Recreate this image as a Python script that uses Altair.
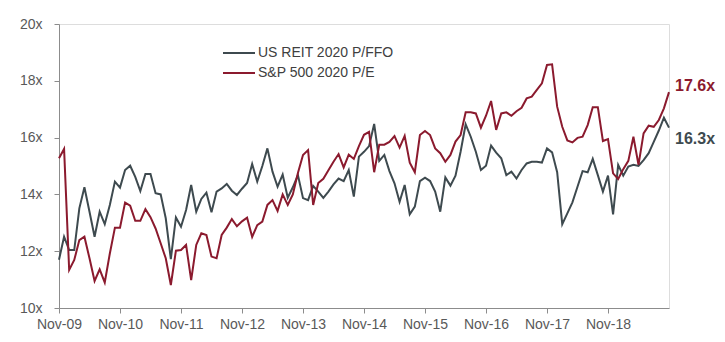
import json
import altair as alt
import pandas as pd

series_names = ["US REIT 2020 P/FFO", "S&P 500 2020 P/E"]
series_colors = ["#3e4a4f", "#8b1a2e"]
tick_labels = ["Nov-09", "Nov-10", "Nov-11", "Nov-12", "Nov-13",
               "Nov-14", "Nov-15", "Nov-16", "Nov-17", "Nov-18"]
end_labels = ["16.3x", "17.6x"]

reit = [11.7, 12.51, 12.04, 12.04, 13.51, 14.25, 13.39, 12.51, 13.39, 12.95,
        13.63, 14.45, 14.24, 14.86, 15.01, 14.62, 14.12, 14.72, 14.72, 14.04,
        14.0, 13.16, 11.72, 13.19, 12.86, 13.45, 14.33, 13.39, 13.84, 14.06,
        13.37, 14.1, 14.21, 14.37, 14.13, 13.98, 14.2, 14.4, 15.07, 14.45,
        15.0, 15.62, 14.8, 14.27, 14.7, 13.88, 14.25, 14.68, 13.87, 13.8,
        14.3, 14.1, 13.88, 14.1, 14.35, 14.56, 14.47, 14.86, 13.92, 15.33,
        15.5, 15.7, 16.48, 15.18, 15.39, 14.82, 14.39, 13.74, 14.33, 13.3,
        13.57, 14.47, 14.59, 14.47, 14.1, 13.39, 14.6, 14.31, 14.66, 15.5,
        16.47, 16.03, 15.5, 14.86, 15.01, 15.72, 15.47, 15.27, 14.68, 14.8,
        14.56, 14.86, 15.09, 15.15, 15.15, 15.12, 15.62, 15.48, 14.78, 12.95,
        13.33, 13.72, 14.27, 14.82, 14.78, 15.25, 14.68, 14.1, 14.66, 13.3,
        15.04, 14.66, 14.98, 15.04, 15.0, 15.21, 15.45, 15.85, 16.25, 16.7,
        16.35]

spx = [15.27, 15.6, 11.34, 11.69, 12.39, 12.51, 11.75, 10.95, 11.36, 10.9,
       11.92, 12.83, 12.83, 13.71, 13.6, 13.07, 13.07, 13.48, 13.2, 12.8,
       12.28, 11.75, 10.81, 12.02, 12.04, 12.22, 10.98, 12.22, 12.63, 12.57,
       11.81, 11.75, 12.57, 12.83, 13.13, 12.88, 13.05, 13.18, 12.5, 12.92,
       13.04, 13.63, 13.8, 13.42, 14.0, 13.63, 14.0, 14.75, 15.39, 15.56,
       13.63, 14.4, 14.55, 14.85, 15.15, 15.42, 14.95, 15.4, 15.25, 15.7,
       16.1, 16.2, 14.78, 15.75, 15.75, 15.85, 16.05, 15.65, 16.06, 15.12,
       14.78, 16.09, 16.23, 16.09, 15.62, 15.45, 15.15, 15.39, 15.86, 16.09,
       16.89, 16.89, 16.85, 16.35, 16.77, 17.29, 16.27, 16.85, 16.89, 16.77,
       16.93, 17.05, 17.38, 17.44, 17.68, 17.91, 18.56, 18.58, 17.09, 16.38,
       15.9, 15.83, 15.99, 16.03, 16.44, 17.07, 17.07, 15.88, 15.95, 14.74,
       14.54, 14.89, 15.18, 16.03, 15.04, 16.15, 16.42, 16.38, 16.62, 17.03,
       17.6]

rows = []
for i, v in enumerate(reit):
    rows.append({"m": i, "series": series_names[0], "value": v})
for i, v in enumerate(spx):
    rows.append({"m": i, "series": series_names[1], "value": v})
df = pd.DataFrame(rows)
last_m = len(reit) - 1

FONT = "Liberation Sans"
label_expr = json.dumps(tick_labels) + "[round(datum.value / 12)]"

x = alt.X("m:Q",
          scale=alt.Scale(domain=[0, last_m], nice=False, zero=False),
          axis=alt.Axis(values=[12 * i for i in range(len(tick_labels))],
                        labelExpr=label_expr, title=None, grid=False,
                        labelOverlap=False, labelFlush=False,
                        tickSize=5, labelPadding=4, labelFontSize=14,
                        labelColor="#595959", domainColor="#8c8c8c",
                        tickColor="#8c8c8c", labelFont=FONT))
y = alt.Y("value:Q",
          scale=alt.Scale(domain=[10, 20], nice=False, zero=False),
          axis=alt.Axis(values=[10, 12, 14, 16, 18, 20],
                        labelExpr="datum.value + 'x'", title=None, grid=False,
                        labelOverlap=False, labelFlush=False,
                        tickSize=5, labelPadding=12, labelFontSize=14,
                        labelColor="#595959", domainColor="#8c8c8c",
                        tickColor="#8c8c8c", labelFont=FONT))
color = alt.Color("series:N",
                  scale=alt.Scale(domain=series_names, range=series_colors),
                  legend=alt.Legend(orient="none", legendX=171, legendY=20,
                                    title=None, symbolType="M-2,0H2",
                                    symbolSize=256, symbolStrokeWidth=2,
                                    labelFontSize=14, labelColor="#404040",
                                    labelFont=FONT, labelOffset=10,
                                    rowPadding=4))

lines = alt.Chart(df).mark_line(strokeWidth=2).encode(x=x, y=y, color=color)

label_reit = alt.Chart(df).transform_filter(
    (alt.datum.m == last_m) & (alt.datum.series == series_names[0])
).transform_calculate(lbl=f"'{end_labels[0]}'").mark_text(
    align="left", baseline="middle", dx=6, dy=11, fontSize=16,
    fontWeight="bold", font=FONT, color=series_colors[0]
).encode(x="m:Q", y="value:Q", text="lbl:N")

label_spx = alt.Chart(df).transform_filter(
    (alt.datum.m == last_m) & (alt.datum.series == series_names[1])
).transform_calculate(lbl=f"'{end_labels[1]}'").mark_text(
    align="left", baseline="middle", dx=6, dy=-6, fontSize=16,
    fontWeight="bold", font=FONT, color=series_colors[1]
).encode(x="m:Q", y="value:Q", text="lbl:N")

chart = alt.layer(lines, label_reit, label_spx).properties(
    width=610, height=284,
    autosize=alt.AutoSizeParams(type="none"),
    padding={"left": 59, "top": 24, "right": 56, "bottom": 34},
).configure_view(stroke=None).configure(font=FONT, background="white")

chart.save("out.html", embed_options={"renderer": "svg", "actions": False})
